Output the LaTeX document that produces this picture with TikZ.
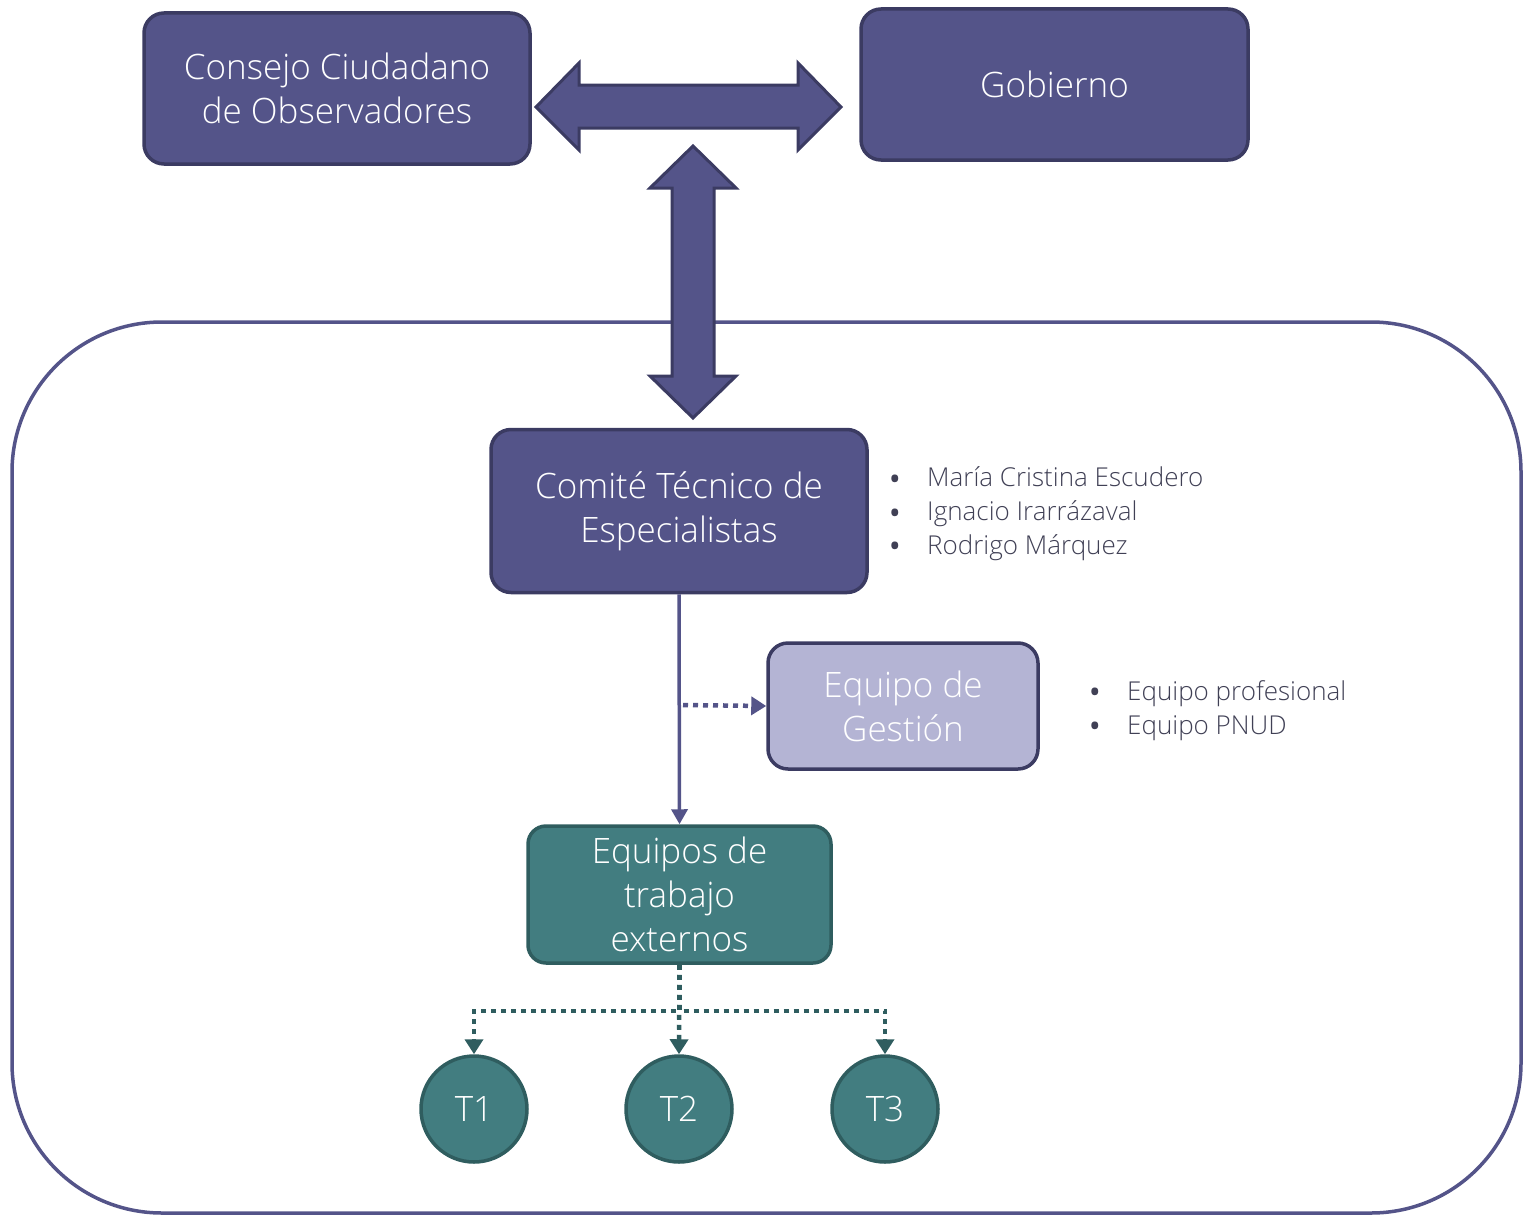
\documentclass[tikz,border=0pt]{standalone}
\usepackage{fontspec}
\setmainfont{Open Sans}[UprightFont={* Light}]
\newfontfamily\bulfont{Open Sans}
\usetikzlibrary{arrows.meta}
\definecolor{pfill}{HTML}{545489}
\definecolor{pdraw}{HTML}{3B3B62}
\definecolor{lfill}{HTML}{B4B4D4}
\definecolor{tfill}{HTML}{427D80}
\definecolor{tdraw}{HTML}{2F5D5F}
\definecolor{btxt}{HTML}{404055}
\tikzset{
  pbox/.style={draw=pdraw, fill=pfill, line width=3.5pt, rounded corners=20pt, text=white, align=center, font=\fontsize{35}{44}\selectfont, inner sep=0pt},
  lbox/.style={pbox, fill=lfill},
  tbox/.style={draw=tdraw, fill=tfill, line width=3.5pt, rounded corners=18pt, text=white, align=center, font=\fontsize{35}{44}\selectfont, inner sep=0pt},
  tcirc/.style={circle, draw=tdraw, fill=tfill, line width=3.5pt, minimum size=106pt, text=white, font=\fontsize{35}{40}\selectfont, inner sep=0pt},
  bigarrow/.style={draw=pdraw, fill=pfill, line width=3pt, line join=miter},
  pline/.style={draw=pfill, line width=3.5pt},
  pdot/.style={draw=pfill, line width=4.5pt, dash pattern=on 5pt off 5pt},
  tdot/.style={draw=tdraw, line width=4.5pt, dash pattern=on 5pt off 5pt},
  btext/.style={text=btxt, font=\fontsize{26}{30}\selectfont, inner sep=0pt, anchor=base west},
  bdot/.style={text=btxt, font=\bulfont\fontsize{32}{30}\selectfont, inner sep=0pt, anchor=base}
}
\begin{document}
\begin{tikzpicture}[x=1pt,y=-1pt]
\useasboundingbox (0,0) rectangle (1523,1215);
% container
\draw[draw=pfill, line width=3.5pt, rounded corners=150pt] (12,322) rectangle (1521,1213);
% top boxes
\node[pbox, minimum width=386pt, minimum height=151pt] (consejo) at (337,88.5) {Consejo Ciudadano\\de Observadores};
\node[pbox, minimum width=387pt, minimum height=151pt] (gobierno) at (1054.5,84.5) {Gobierno};
% horizontal double arrow
\draw[bigarrow] (536,107) -- (579,63) -- (579,85) -- (798,85) -- (798,63) -- (841,107)
  -- (798,150) -- (798,128) -- (579,128) -- (579,150) -- cycle;
% vertical double arrow
\draw[bigarrow] (693,146) -- (736,188) -- (714,188) -- (714,376) -- (736,376) -- (693,418)
  -- (650,376) -- (672,376) -- (672,188) -- (650,188) -- cycle;
% comite
\node[pbox, minimum width=376pt, minimum height=163pt] (comite) at (679,511) {Comité Técnico de\\Especialistas};
\node[bdot] at (895,490) {•};
\node[btext] at (927,486) {María Cristina Escudero};
\node[bdot] at (895,524) {•};
\node[btext] at (927,520) {Ignacio Irarrázaval};
\node[bdot] at (895,557) {•};
\node[btext] at (927,554) {Rodrigo Márquez};
% gestion
\node[lbox, minimum width=270pt, minimum height=126pt] (gestion) at (903,706) {Equipo de\\Gestión};
\node[bdot] at (1095,703) {•};
\node[btext] at (1127,700) {Equipo profesional};
\node[bdot] at (1095,737) {•};
\node[btext] at (1127,734) {Equipo PNUD};
% equipos
\node[tbox, minimum width=303pt, minimum height=137pt] (equipos) at (679.5,894.5) {Equipos de\\trabajo\\externos};
% circles
\node[tcirc] (t1) at (474,1109) {T1};
\node[tcirc] (t2) at (679,1109) {T2};
\node[tcirc] (t3) at (885,1109) {T3};
% connectors
\draw[pline, -{Triangle[length=15pt,width=16pt]}] (comite.south) -- (equipos.north);
\coordinate (gjoin) at (683,705);
\draw[pdot, -{Triangle[length=15pt,width=18pt]}] (gjoin) -- (gestion.west);
\draw[tdot, -{Triangle[length=15pt,width=18pt]}] (equipos.south) -- (t2.north);
\draw[tdot, -{Triangle[length=15pt,width=18pt]}] (equipos.south) -- ++(0,46) -| (t1.north);
\draw[tdot, -{Triangle[length=15pt,width=18pt]}] (equipos.south) -- ++(0,46) -| (t3.north);
\end{tikzpicture}
\end{document}
